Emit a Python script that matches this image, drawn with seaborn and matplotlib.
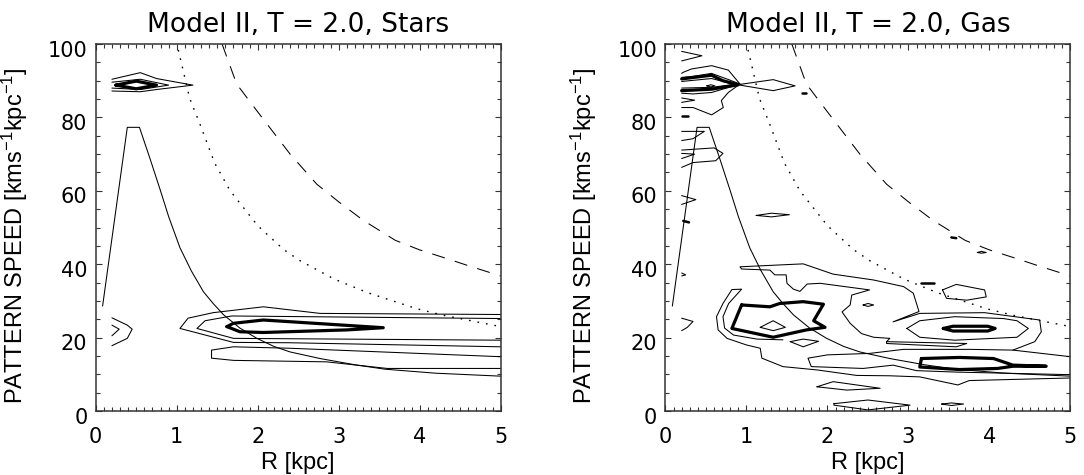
import matplotlib
matplotlib.use("Agg")
import matplotlib.pyplot as plt
from matplotlib.transforms import ScaledTranslation
import pandas as pd
import seaborn as sns

# ---------------- resonance curves (shared by both panels) ----------------
ILR_R = [0.085, 0.39, 0.54, 0.67, 0.80, 0.90, 1.04, 1.18, 1.33, 1.45, 1.58, 1.78,
         1.99, 2.2, 2.4, 2.77, 3.2, 3.57, 4.2, 5.0]
ILR_S = [28.6, 77.3, 77.3, 68.8, 60.0, 53.0, 44.5, 38.2, 32.5, 29.3, 26.2, 22.6,
         19.8, 17.6, 16.1, 14.3, 12.6, 11.4, 10.3, 9.5]
CR_R = [1.02, 1.16, 1.29, 1.47, 1.66, 2.0, 2.32, 2.52, 2.94, 3.35, 3.96, 4.29, 5.0]
CR_S = [98.4, 85.2, 78.0, 67.5, 60.0, 50.5, 44.0, 41.0, 36.0, 32.3, 27.9, 26.1, 23.0]
OLR_R = [1.56, 1.74, 1.99, 2.4, 2.73, 3.0, 3.3, 3.7, 4.0, 4.34, 4.6, 5.0]
OLR_S = [100, 89.1, 81.8, 70, 61.8, 57, 52, 46.5, 43.9, 41.5, 39.6, 36.8]

# ---------------- Stars contours (R [kpc], pattern speed) ----------------
ST_A = [(5, 26.3), (2.77, 26.6), (2.07, 28.4), (1.45, 26.8), (1.14, 25.3), (1.04, 22.5),
        (1.70, 18.7), (2.4, 18.6), (5, 17.5)]
ST_B = [(5, 25.2), (1.68, 25.9), (1.35, 24.6), (1.25, 22.5), (1.70, 19.8), (5, 19.3)]
ST_C = [(5, 14.8), (2.4, 17.1), (1.70, 17.5), (1.43, 16.6), (1.43, 14.4), (1.70, 13.8),
        (2.85, 13.4), (3.6, 11.6), (5, 11.6)]
ST_THICK = [(1.62, 23.0), (1.70, 23.9), (2.07, 24.8), (3.55, 22.7), (3.1, 22.1),
            (2.07, 21.4), (1.78, 21.6), (1.62, 23.0)]
ST_ARC1 = [(0.2, 25.4), (0.39, 23.4), (0.45, 22.3), (0.39, 19.8), (0.2, 17.8)]
ST_ARC2 = [(0.2, 23.4), (0.29, 22.3), (0.2, 20.5)]
ST_BLOB1 = [(0.2, 90.4), (0.55, 92.2), (0.75, 90.6), (1.2, 88.8), (0.75, 87.6),
            (0.55, 87.0), (0.2, 87.2)]
ST_BLOB2 = [(0.2, 89.6), (0.55, 90.4), (0.9, 88.8), (0.55, 87.6), (0.2, 88.0)]
ST_BLOB_THICK = [(0.25, 88.8), (0.5, 89.9), (0.75, 88.8), (0.5, 87.8), (0.25, 88.8)]

# ---------------- Gas contours ----------------
GA_T1 = [(0.2, 98.0), (0.45, 96.8), (0.2, 95.4)]
GA_T2 = [(0.2, 82.7), (0.34, 82.7), (0.57, 80.7), (0.714, 82.7), (0.69, 84.6), (0.776, 86.8),
         (0.92, 89.1), (0.776, 92.9), (0.57, 94.1), (0.32, 93.2), (0.22, 92.3), (0.2, 92.0)]
GA_T3 = [(0.2, 84.1), (0.36, 84.7), (0.2, 85.3)]
GA_T4 = [(0.2, 90.9), (0.34, 91.2), (0.57, 92.0), (0.78, 90.3), (0.92, 89.1), (0.57, 86.8),
         (0.34, 86.4), (0.2, 86.6)]
GA_T5 = [(0.2, 89.8), (0.57, 90.6), (0.85, 89.0), (0.57, 88.2), (0.2, 88.0)]
GA_BLOB_THICK = [(0.2, 90.5), (0.57, 91.5), (0.71, 90.0), (0.90, 88.9), (0.57, 87.7), (0.2, 87.3)]
GA_T6 = [(0.51, 88.6), (0.56, 88.9), (0.61, 88.6), (0.56, 88.3), (0.51, 88.6)]
GA_T7 = [(0.92, 89.0), (1.33, 90.3), (1.6, 88.6), (1.33, 87.3), (0.92, 88.8)]
GA_T10 = [(0.2, 76.2), (0.48, 76.2), (0.34, 74.2), (0.2, 73.7)]
GA_T11 = [(0.2, 71.1), (0.6, 71.7), (0.71, 70.2), (0.62, 68.2), (0.34, 67.7), (0.2, 66.4)]
GA_T12 = [(0.2, 70.2), (0.36, 70.0), (0.2, 68.8)]
GA_T13 = [(0.2, 58.7), (0.375, 57.6), (0.2, 56.3)]
GA_T15 = [(0.2, 37.6), (0.25, 37.1), (0.2, 36.8)]
GA_T16 = [(0.2, 25.3), (0.34, 24.4), (0.27, 22.8), (0.2, 21.9)]
GA_T17 = [(1.12, 53.3), (1.31, 53.9), (1.53, 53.5), (1.31, 52.9), (1.12, 53.3)]
GA_T19 = [(3.85, 43.2), (3.9, 43.5), (3.96, 43.2), (3.9, 43.0), (3.85, 43.2)]
GA_T21 = [(3.42, 33.0), (3.59, 34.5), (3.94, 33.0), (3.96, 31.1), (3.72, 30.2), (3.47, 30.7),
          (3.42, 33.0)]
GA_T23 = [(2.44, 28.9), (2.5, 29.3), (2.57, 28.9), (2.5, 28.5), (2.44, 28.9)]
GA_DASHES = [[(1.68, 86.6), (1.74, 86.6)], [(0.2, 80.5), (0.28, 80.5)],
             [(0.22, 51.8), (0.29, 51.4)], [(3.53, 47.3), (3.59, 47.1)],
             [(3.16, 35.0), (3.31, 35.0)]]
GA_BAND = [(5.0, 14.8), (4.29, 16.6), (3.76, 16.8), (2.94, 16.8), (2.52, 15.7), (2.0, 15.3),
           (1.76, 14.4), (1.80, 12.1), (2.44, 11.6), (2.81, 12.5), (3.1, 11.0), (3.6, 10.6),
           (5.0, 9.9)]
GA_ARCH = [(4.29, 16.6), (4.56, 18.9), (4.64, 21.6), (4.62, 24.8), (3.94, 26.8), (3.14, 26.6),
           (2.81, 24.3), (3.13, 27.1), (3.06, 32.1), (2.94, 33.9), (2.57, 35.7), (2.07, 37.3),
           (1.70, 40.1), (0.92, 39.3), (0.94, 38.7), (1.29, 38.4), (1.35, 37.1), (1.49, 37.1),
           (1.50, 34.8), (1.58, 33.2), (1.66, 32.6), (1.75, 34.6), (1.91, 34.8), (2.52, 33.0),
           (2.30, 31.6), (2.28, 28.9), (2.18, 27.0), (2.28, 23.9), (2.42, 21.1), (2.57, 20.1),
           (2.77, 19.8), (2.73, 18.9)]
GA_SLIVER = [(2.73, 18.9), (3.72, 18.4), (3.59, 17.5), (2.73, 18.4), (2.73, 18.9)]
GA_WRAP = [(1.45, 19.4), (1.13, 19.6), (0.84, 20.7), (0.73, 22.6), (0.71, 25.7), (0.78, 29.3),
           (0.94, 33.2), (0.82, 33.1), (0.71, 29.3), (0.63, 25.7), (0.65, 22.1), (0.76, 19.8),
           (1.0, 18.0), (1.17, 17.1), (1.19, 14.4), (1.45, 12.1), (1.87, 11.2), (2.36, 9.7),
           (2.77, 9.6), (3.14, 9.3), (3.61, 7.1), (3.75, 8.3), (5.0, 9.0)]
GA_HEX_THICK = [(0.94, 28.9), (1.29, 28.4), (1.41, 29.3), (1.70, 29.8), (1.95, 29.1),
                (1.83, 24.6), (1.97, 22.8), (1.74, 22.1), (1.33, 20.1), (0.82, 22.5), (0.94, 28.9)]
GA_IN_DIAM = [(1.17, 22.8), (1.33, 24.6), (1.48, 22.8), (1.33, 21.9), (1.17, 22.8)]
GA_LOW_DIAM = [(1.54, 18.9), (1.70, 19.6), (1.89, 19.0), (1.70, 17.5), (1.54, 18.9)]
GA_ELLIPSE = [(2.98, 22.5), (3.14, 24.6), (3.57, 25.7), (4.17, 25.2), (4.34, 24.6), (4.48, 22.5),
              (4.34, 20.1), (3.57, 19.3), (3.14, 20.1), (2.98, 22.5)]
GA_RIGHT_THICK = [(3.43, 22.5), (3.55, 23.1), (3.98, 23.1), (4.07, 22.5), (3.98, 21.8),
                  (3.55, 21.8), (3.43, 22.5)]
GA_BAND_THICK = [(3.16, 14.3), (3.63, 14.6), (4.05, 14.3), (4.29, 12.5), (4.70, 12.2),
                 (4.29, 12.2), (4.10, 11.6), (3.63, 11.3), (3.14, 12.0), (3.16, 14.3)]
GA_S7 = [(1.87, 6.6), (2.07, 8.0), (2.65, 6.2), (2.24, 5.7), (1.87, 6.6)]
GA_BOTTOM = [(2.08, 2.0), (2.5, 3.0), (3.02, 1.6), (2.5, 0.3), (2.08, 1.6), (2.08, 2.0)]
GA_BOTTOM2 = [(3.41, 1.9), (3.53, 2.2), (3.68, 1.9), (3.53, 1.5), (3.41, 1.9)]

TITLES = ["Model II, T = 2.0, Stars", "Model II, T = 2.0, Gas"]
XLABEL = "R [kpc]"
YLABEL = "PATTERN SPEED [kms$^{\\mathregular{-1}}$kpc$^{\\mathregular{-1}}$]"
XTICKS = [0, 1, 2, 3, 4, 5]
YTICKS = [0, 20, 40, 60, 80, 100]

sns.set_theme(style="ticks")
plt.rcParams["font.family"] = ["Liberation Sans", "DejaVu Sans"]
plt.rcParams["mathtext.fontset"] = "custom"
plt.rcParams["mathtext.rm"] = "Liberation Sans"
plt.rcParams["mathtext.it"] = "Liberation Sans"
plt.rcParams["mathtext.default"] = "regular"
plt.rcParams["lines.scale_dashes"] = False
plt.rcParams["text.color"] = "black"
plt.rcParams["axes.labelcolor"] = "black"
plt.rcParams["xtick.labelcolor"] = "black"
plt.rcParams["ytick.labelcolor"] = "black"

THIN = 0.75
THICK = 2.3
WIDE_FONT = ["DejaVu Sans"]


def draw(ax, pts, lw=THIN, **kw):
    df = pd.DataFrame(pts, columns=["R", "S"])
    sns.lineplot(data=df, x="R", y="S", sort=False, estimator=None, ax=ax,
                 color="black", lw=lw, legend=False, **kw)


def curves(ax):
    sns.lineplot(x=ILR_R, y=ILR_S, sort=False, estimator=None, ax=ax, color="black",
                 lw=THIN, legend=False)
    sns.lineplot(x=CR_R, y=CR_S, sort=False, estimator=None, ax=ax, color="black",
                 lw=1.0, linestyle=(0, (1.2, 5.0)), legend=False)
    sns.lineplot(x=OLR_R, y=OLR_S, sort=False, estimator=None, ax=ax, color="black",
                 lw=THIN, linestyle=(0, (9.5, 7.5)), legend=False)


fig = plt.figure(figsize=(10.84, 4.75), dpi=100)
axL = fig.add_axes([0.0883, 0.1347, 0.3736, 0.7726])
axR = fig.add_axes([0.6139, 0.1347, 0.3736, 0.7726])

# Stars
for c in [ST_A, ST_B, ST_C, ST_ARC1, ST_ARC2, ST_BLOB1, ST_BLOB2]:
    draw(axL, c)
for c in [ST_THICK, ST_BLOB_THICK]:
    draw(axL, c, THICK)
curves(axL)

# Gas
for c in [GA_T1, GA_T2, GA_T3, GA_T4, GA_T5, GA_T6, GA_T7, GA_T10, GA_T11, GA_T12, GA_T13,
          GA_T15, GA_T16, GA_T17, GA_T19, GA_T21, GA_T23, GA_BAND, GA_ARCH, GA_SLIVER,
          GA_WRAP, GA_IN_DIAM, GA_LOW_DIAM, GA_ELLIPSE, GA_S7, GA_BOTTOM, GA_BOTTOM2]:
    draw(axR, c)
for c in GA_DASHES:
    draw(axR, c, 1.8)
for c in [GA_BLOB_THICK, GA_HEX_THICK, GA_RIGHT_THICK, GA_BAND_THICK]:
    draw(axR, c, THICK)
curves(axR)

shift_down = ScaledTranslation(0, -4.5 / 100, fig.dpi_scale_trans)
for ax, title in zip([axL, axR], TITLES):
    ax.set_xlim(0, 5)
    ax.set_ylim(0, 100)
    ax.set_xticks(XTICKS)
    ax.set_yticks(YTICKS)
    ax.set_xticks([i / 10 for i in range(51)], minor=True)
    ax.set_yticks(list(range(0, 101, 5)), minor=True)
    ax.tick_params(which="both", direction="in", top=True, right=True, color="#333333",
                   width=0.8, labelcolor="black")
    ax.tick_params(which="major", length=4.3, labelsize=15)
    ax.tick_params(which="minor", length=2.6)
    ax.tick_params(axis="x", which="major", pad=11.5)
    ax.tick_params(axis="y", which="major", pad=6)
    for lab in ax.get_xticklabels() + ax.get_yticklabels():
        lab.set_family(WIDE_FONT)
    for lab in ax.get_yticklabels():
        lab.set_transform(lab.get_transform() + shift_down)
    for sp in ax.spines.values():
        sp.set_visible(True)
        sp.set_color("#333333")
        sp.set_linewidth(1.1)
    ax.set_title(title, fontsize=19, pad=8.9, family=WIDE_FONT, color="black")
    ax.set_xlabel(XLABEL, fontsize=17, va="baseline", color="black")
    ax.xaxis.set_label_coords(0.5, -0.158)
    ax.set_ylabel(YLABEL, fontsize=17, color="black")
    ax.yaxis.set_label_coords(-0.163, 0.477)

fig.savefig("out.png", dpi=100)
